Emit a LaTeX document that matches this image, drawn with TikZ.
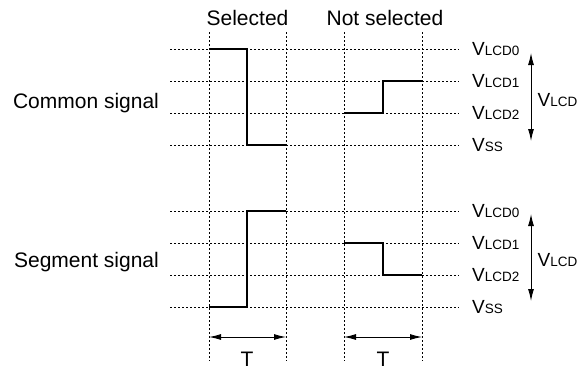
\documentclass[tikz,border=0pt]{standalone}
\usepackage{fontspec}
\setmainfont{Liberation Sans}
\usetikzlibrary{arrows.meta}

% voltage level with small subscript letters
\newcommand{\volt}[1]{V{\fontsize{13.5}{14}\selectfont #1}}

\begin{document}
\begin{tikzpicture}[
		x=1pt, y=-1pt,
		gridline/.style={
			line width=0.75pt,
			dash pattern=on 2pt off 2pt
		},
		wave/.style={line width=2.6pt},
		txt/.style={
			inner sep=0pt,
			font=\fontsize{21}{25}\selectfont
		},
		lvl/.style={
			anchor=west,
			inner sep=0pt,
			font=\fontsize{19}{22}\selectfont
		},
		dim/.style={
			line width=0.9pt,
			{Latex[length=12pt,width=6pt]}-{Latex[length=12pt,width=6pt]}
		}
		]
		
		\useasboundingbox (0,0) rectangle (577,370);
		
		% Dotted grid
		\foreach \y in {49,81,113,145,211,243,275,307}
			\draw[gridline] (170,\y) -- (459,\y);
		\foreach \x in {209,286,344,422}
			\draw[gridline] (\x,32) -- (\x,361);
		
		% Column headings
		\node[txt] (sel) at (247.5,18) {Selected};
		\node[txt] (nsel) at (385,18) {Not selected};
		
		% Row headings
		\node[txt, anchor=base] (com) at (86,108) {Common signal};
		\node[txt, anchor=base] (seg) at (86.5,267) {Segment signal};
		
		% Common signal
		\draw[wave] (209,49) -| (247,145) -- (286,145);
		\draw[wave] (344,113) -| (383,81) -- (422,81);
		
		% Segment signal
		\draw[wave] (209,307) -| (247,211) -- (286,211);
		\draw[wave] (344,243) -| (383,275) -- (422,275);
		
		% Levels (common)
		\node[lvl] (clcd0) at (472,49) {\volt{LCD0}};
		\node[lvl] (clcd1) at (472,81) {\volt{LCD1}};
		\node[lvl] (clcd2) at (472,113) {\volt{LCD2}};
		\node[lvl] (cvss) at (472,145) {\volt{SS}};
		
		% Levels (segment)
		\node[lvl] (slcd0) at (472,211) {\volt{LCD0}};
		\node[lvl] (slcd1) at (472,243) {\volt{LCD1}};
		\node[lvl] (slcd2) at (472,275) {\volt{LCD2}};
		\node[lvl] (svss) at (472,307) {\volt{SS}};
		
		% VLCD ranges
		\coordinate (ctop) at (531,53);
		\coordinate (cbot) at (531,141);
		\draw[dim] (ctop) -- (cbot);
		\node[lvl] (crange) at (537.5,100.5) {\volt{LCD}};
		
		\coordinate (stop) at (531,214);
		\coordinate (sbot) at (531,301);
		\draw[dim] (stop) -- (sbot);
		\node[lvl] (srange) at (537.5,260.5) {\volt{LCD}};
		
		% Period T
		\coordinate (tsa) at (209,337);
		\coordinate (tsb) at (286,337);
		\draw[dim] (tsa) -- (tsb);
		\node[txt] (tsel) at (247,359) {T};
		
		\coordinate (tna) at (344,337);
		\coordinate (tnb) at (422,337);
		\draw[dim] (tna) -- (tnb);
		\node[txt] (tnsel) at (383,359) {T};
		
	\end{tikzpicture}
\end{document}
